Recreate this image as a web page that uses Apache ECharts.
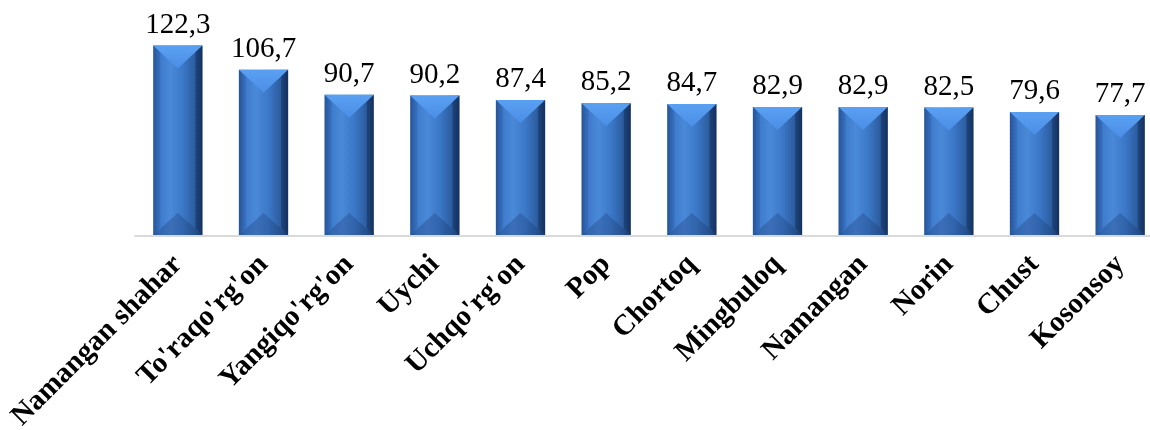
<!DOCTYPE html>
<html><head><meta charset="utf-8">
<script src="https://cdn.jsdelivr.net/npm/echarts@6/dist/echarts.min.js"></script>
<style>html,body{margin:0;padding:0;background:#fff}#c{width:1150px;height:430px}</style>
</head><body><div id="c"></div>
<script>
var categories = ["Namangan shahar","To'raqo'rg'on","Yangiqo'rg'on","Uychi","Uchqo'rg'on","Pop","Chortoq","Mingbuloq","Namangan","Norin","Chust","Kosonsoy"];
var values = [122.3,106.7,90.7,90.2,87.4,85.2,84.7,82.9,82.9,82.5,79.6,77.7];

var chart = echarts.init(document.getElementById('c'));
function fmt(v){ return v.toFixed(1).replace('.', ','); }
chart.setOption({
  animation:false,
  grid:{left:135, top:18, width:1028, height:218, containLabel:false, outerBoundsMode:'none'},
  xAxis:{type:'category', data:categories,
    axisLine:{show:true, lineStyle:{color:'#d9d9d9', width:2}},
    axisTick:{show:false},
    axisLabel:{rotate:45, interval:0, margin:24, color:'#000', fontFamily:'Liberation Serif', fontWeight:'bold', fontSize:29}
  },
  yAxis:{type:'value', min:0, max:140, show:false, splitLine:{show:false}},
  series:[{
    type:'custom',
    data:values.map(function(v,i){return [i,v];}),
    encode:{x:0,y:1},
    renderItem:function(params, api){
      var i = api.value(0), v = api.value(1);
      var top = api.coord([i, v]);
      var base = api.coord([i, 0]);
      var w = api.size([1,0])[0]*0.575;
      var x0 = top[0]-w/2, x1 = top[0]+w/2, xc = top[0];
      var y0 = top[1], y1 = base[1]-1;
      var e = 7;
      var grad = new echarts.graphic.LinearGradient(0,0,1,0,[
        {offset:0, color:'#2a5da3'},
        {offset:0.12, color:'#3d7acb'},
        {offset:0.35, color:'#4a88d8'},
        {offset:0.6, color:'#3b78c8'},
        {offset:0.85, color:'#2c5c9e'},
        {offset:1, color:'#1b3d6e'}
      ]);
      return {type:'group', children:[
        {type:'rect', shape:{x:x0, y:y0, width:w, height:y1-y0}, style:{fill:grad}},
        {type:'polygon', shape:{points:[[x0,y0],[x1,y0],[xc,y0+23]]},
          style:{fill:new echarts.graphic.LinearGradient(0,0,0,1,[{offset:0,color:'#5aa0f2'},{offset:1,color:'#4a8ee6'}])}},
        {type:'polygon', shape:{points:[[x0,y1],[x1,y1],[xc,y1-22]]},
          style:{fill:'rgba(20,50,100,0.28)'}},
        {type:'polygon', shape:{points:[[x1,y0],[x1,y1],[x1-e,y1-e],[x1-e,y0+e]]},
          style:{fill:'rgba(10,30,70,0.35)'}},
        {type:'polygon', shape:{points:[[x0,y0],[x0,y1],[x0+e,y1-e],[x0+e,y0+e]]},
          style:{fill:'rgba(20,50,110,0.18)'}},
        {type:'text', style:{x:xc, y:y0-6, text:fmt(v), align:'center', verticalAlign:'bottom',
          fill:'#000', fontFamily:'Liberation Serif', fontSize:29}}
      ]};
    }
  }]
});
</script></body></html>
